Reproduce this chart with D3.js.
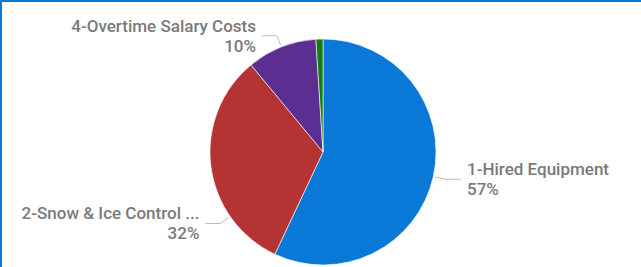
<!DOCTYPE html>
<html>
<head>
<meta charset="utf-8">
<script src="https://cdn.jsdelivr.net/npm/d3@7"></script>
<style>
  body { margin: 0; background: #fff; }
  svg { display: block; }
  .lbl { font-family: Roboto, sans-serif; font-size: 17px; font-weight: 500; fill: #7a7a7a; }
</style>
</head>
<body>
<svg width="641" height="267"></svg>
<script>
// chart data
var categories = ["1-Hired Equipment", "2-Snow & Ice Control ...", "4-Overtime Salary Costs", "3-Other"];
var values = [57, 32, 10, 1];
var colors = ["#0A78D6", "#B63334", "#5C2E91", "#137C13"];
// where along each slice the leader line starts (0..1), null = no label
var labelAnchor = [0.5, 0.26, 0.5, null];

let svg = d3.select("svg");
let width = parseInt(svg.attr("width"));
let height = parseInt(svg.attr("height"));

// blue frame on top and left
svg.append("line").attr("x1", 0).attr("x2", width).attr("y1", 1).attr("y2", 1)
    .attr("stroke", "#0A78D6").attr("stroke-width", 2);
svg.append("line").attr("x1", 1).attr("x2", 1).attr("y1", 0).attr("y2", height)
    .attr("stroke", "#0A78D6").attr("stroke-width", 2);

var cx = 323, cy = 152, r = 113;

var data = categories.map(function (c, i) {
    return { name: c, value: values[i], color: colors[i], anchor: labelAnchor[i] };
});

var pie = d3.pie().sort(null).value(function (d) { return d.value; });
var arc = d3.arc().innerRadius(0).outerRadius(r);
var arcs = pie(data);
var total = d3.sum(values);
var fmt = d3.format(".0%");

var g = svg.append("g").attr("transform", "translate(" + cx + "," + cy + ")");

g.selectAll("path")
    .data(arcs)
    .enter()
    .append("path")
    .attr("d", arc)
    .attr("fill", function (d) { return d.data.color; })
    .attr("stroke", "#fff")
    .attr("stroke-width", 0.6);

// leader lines and labels
var labelled = arcs.filter(function (d) { return d.data.anchor !== null; });

labelled.forEach(function (d) {
    var a = d.startAngle + (d.endAngle - d.startAngle) * d.data.anchor;
    var p0 = [Math.sin(a) * (r + 2), -Math.cos(a) * (r + 2)];
    var p1 = [Math.sin(a) * (r + 12), -Math.cos(a) * (r + 12)];
    var right = Math.sin(a) > 0;
    var p2 = [p1[0] + (right ? 16 : -15), p1[1]];

    g.append("polyline")
        .attr("points", [p0, p1, p2].map(function (p) { return p.join(","); }).join(" "))
        .attr("fill", "none")
        .attr("stroke", "#bbb")
        .attr("stroke-width", 1);

    var tx = p2[0] + (right ? 6 : -6);
    var t = g.append("text")
        .attr("class", "lbl")
        .attr("text-anchor", right ? "start" : "end");
    t.append("tspan").attr("x", tx).attr("y", p2[1] - 4).text(d.data.name);
    t.append("tspan").attr("x", tx).attr("y", p2[1] + 16).text(fmt(d.data.value / total));
});
</script>
</body>
</html>
